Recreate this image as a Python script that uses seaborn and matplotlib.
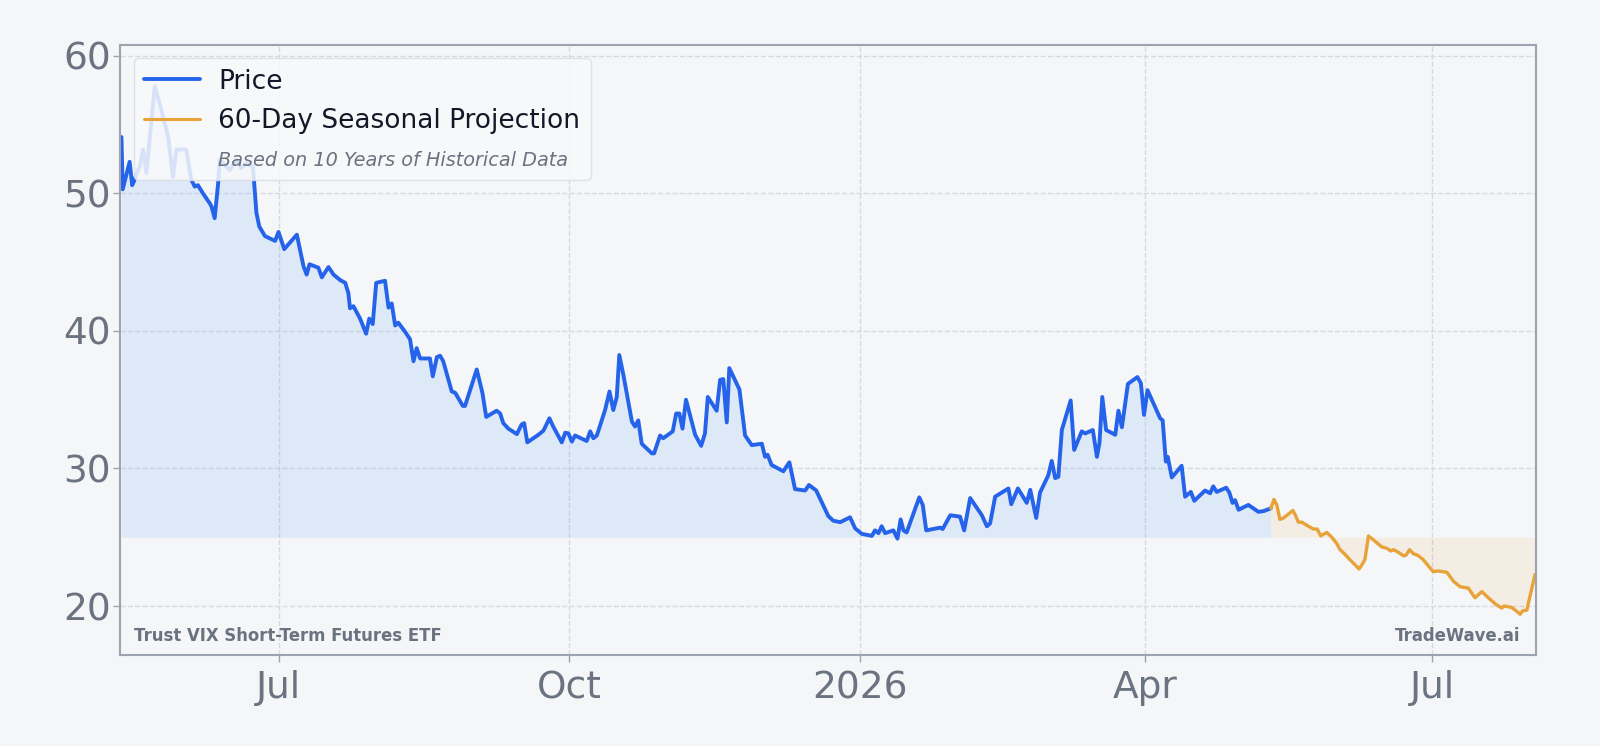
import pandas as pd
import seaborn as sns
import matplotlib.pyplot as plt
from matplotlib.lines import Line2D

# Precio diario (dias desde el 12-may-2025)
inicio = pd.Timestamp("2025-05-12")

dias_precio = [0.3, 0.7, 2.9, 3.7, 4.3, 6.1, 7.15, 8.2, 10.85, 12.9, 15.1, 16.6, 17.7, 20.8,
               22.4, 23.5, 24.5, 26.1, 28.2, 28.8, 29.8, 30.9, 31.4, 34.6, 36.7, 38.2, 39.8,
               41.9, 43.0, 43.9, 45.7, 48.9, 50.0, 51.8, 55.8, 57.9, 58.9, 59.8, 62.6, 63.7,
               65.8, 67.4, 69.5, 71.1, 72.1, 72.6, 73.7, 75.8, 77.7, 78.7, 79.8, 80.9, 83.7,
               84.8, 85.8, 86.9, 87.9, 90.0, 91.6, 92.7, 93.7, 94.8, 97.9, 98.8, 100.1, 101.1,
               102.1, 104.8, 105.9, 108.3, 109.0, 112.7, 114.5, 115.7, 119.0, 120.1, 121.1,
               122.7, 125.4, 126.9, 127.7, 128.7, 132.2, 133.8, 135.7, 136.9, 139.6, 140.7,
               141.7, 142.8, 143.8, 147.5, 148.6, 149.6, 150.7, 153.3, 154.7, 155.9, 157.0,
               157.8, 159.1, 161.8, 162.8, 163.8, 164.9, 168.1, 168.8, 170.7, 171.7, 174.7,
               175.8, 176.8, 177.8, 178.9, 181.8, 183.7, 184.9, 185.8, 188.6, 189.7, 190.7,
               191.8, 192.6, 195.8, 197.6, 199.7, 202.9, 203.9, 204.7, 206.0, 209.7, 211.6,
               213.4, 216.6, 217.8, 220.1, 223.9, 225.5, 227.7, 230.8, 232.4, 234.5, 237.7,
               238.7, 239.8, 240.8, 241.9, 244.5, 245.8, 246.8, 247.7, 248.7, 252.7, 253.8,
               254.9, 259.3, 260.1, 262.5, 265.6, 266.9, 268.8, 272.5, 274.1, 275.1, 276.7,
               280.9, 281.8, 283.9, 286.7, 287.8, 289.7, 290.9, 293.5, 294.6, 295.7, 296.7,
               297.8, 300.6, 301.7, 304.1, 305.2, 307.6, 308.9, 309.7, 310.6, 311.8, 314.7,
               315.7, 316.8, 318.7, 321.7, 322.8, 323.8, 324.9, 328.9, 329.7, 330.7, 331.3,
               332.6, 335.7, 336.8, 338.6, 339.7, 343.1, 344.7, 345.7, 346.8, 349.8, 350.8,
               351.8, 352.6, 353.7, 356.8, 360.0, 361.6, 363.9]
precio = [54.1, 50.3, 52.3, 50.6, 50.9, 52.0, 53.2, 51.5, 57.8, 56.1, 54.1, 51.2, 53.2, 53.2,
          51.0, 50.5, 50.6, 50.0, 49.3, 49.05, 48.2, 50.75, 52.45, 51.7, 52.45, 51.85, 52.2,
          51.95, 48.6, 47.6, 46.9, 46.55, 47.2, 45.95, 47.0, 44.7, 44.1, 44.85, 44.6, 43.9,
          44.65, 44.1, 43.7, 43.5, 42.75, 41.65, 41.8, 40.9, 39.8, 40.9, 40.5, 43.5, 43.65,
          41.7, 42.0, 40.4, 40.6, 39.95, 39.4, 37.8, 38.75, 38.0, 38.0, 36.7, 38.1, 38.2,
          37.8, 35.6, 35.5, 34.55, 34.55, 37.2, 35.5, 33.75, 34.2, 34.0, 33.3,
          32.9, 32.5, 33.2, 33.3, 31.9, 32.45, 32.75, 33.65, 33.05, 31.9, 32.6,
          32.55, 31.95, 32.4, 32.0, 32.7, 32.2, 32.4, 34.25, 35.6, 34.25, 35.2,
          38.25, 36.8, 33.4, 33.05, 33.5, 31.8, 31.1, 31.1, 32.4, 32.2, 32.7,
          34.0, 34.0, 32.9, 35.0, 32.45, 31.65, 32.55, 35.2, 34.2, 36.45, 36.5,
          33.35, 37.3, 35.75, 32.4, 31.7, 31.8, 30.85, 31.0, 30.25, 29.8, 30.45,
          28.5, 28.4, 28.8, 28.4, 26.55, 26.2, 26.1, 26.45, 25.65, 25.25, 25.1,
          25.5, 25.3, 25.8, 25.3, 25.5, 24.9, 26.3, 25.5, 25.35, 27.9, 27.35,
          25.5, 25.7, 25.6, 26.6, 26.5, 25.5, 27.85, 26.6, 25.8, 26.0, 27.95,
          28.55, 27.4, 28.55, 27.5, 28.45, 26.4, 28.25, 29.5, 30.55, 29.3, 29.4,
          32.8, 34.95, 31.35, 32.7, 32.55, 32.8, 30.85, 31.85, 35.2, 32.8, 32.45,
          34.2, 33.0, 36.15, 36.65, 36.2, 33.9, 35.7, 33.65, 33.5, 30.5, 30.85,
          29.35, 30.2, 27.95, 28.3, 27.65, 28.4, 28.2, 28.7, 28.3, 28.6, 28.25,
          27.5, 27.7, 27.0, 27.35, 26.85, 26.9, 27.1]

# Proyeccion estacional de 60 dias
dias_proy = [363.9, 364.9, 365.8, 366.8, 367.9, 370.9, 371.8, 372.6, 373.7, 375.8, 377.4,
             378.6, 379.7, 381.6, 383.0, 384.6, 385.8, 387.2, 388.8, 390.3, 391.8, 392.7,
             393.7, 394.8, 396.4, 399.0, 400.6, 401.9, 402.7, 404.3, 405.9, 406.7, 407.8,
             409.0, 410.3, 412.0, 413.8, 415.3, 416.9, 419.6, 421.7, 423.8, 426.4, 428.5,
             430.7, 432.7, 435.2, 437.0, 437.7, 440.1, 441.5, 442.8, 443.6, 444.9, 447.5]
proyeccion = [27.1, 27.75, 27.35, 26.3, 26.4, 26.95, 26.55, 26.1, 26.1, 25.8, 25.6,
              25.6, 25.1, 25.35, 25.05, 24.6, 24.1, 23.8, 23.4, 23.05, 22.7, 22.98,
              23.4, 25.1, 24.8, 24.3, 24.2, 24.0, 24.1, 23.9, 23.65, 23.7, 24.1,
              23.8, 23.7, 23.4, 22.9, 22.5, 22.55, 22.45, 21.8, 21.4, 21.3, 20.6,
              21.05, 20.6, 20.1, 19.85, 20.0, 19.9, 19.65, 19.4, 19.65, 19.7, 22.3]

base_relleno = 25
y_ticks = [20, 30, 40, 50, 60]
x_ticks = ["2025-07-01", "2025-10-01", "2026-01-01", "2026-04-01", "2026-07-01"]
x_labels = ["Jul", "Oct", "2026", "Apr", "Jul"]

df_precio = pd.DataFrame({"fecha": inicio + pd.to_timedelta(dias_precio, unit="D"), "valor": precio})
df_proy = pd.DataFrame({"fecha": inicio + pd.to_timedelta(dias_proy, unit="D"), "valor": proyeccion})

azul = "#2563eb"
azul_relleno = "#60a5fa"
naranja = "#e8a23a"
fondo = "#f5f6f8"
gris = "#6b7280"

sns.set_theme(style="white")
plt.rcParams["font.family"] = ["DejaVu Sans"]

fig, ax = plt.subplots(figsize=(16, 7.46), dpi=100)
fig.subplots_adjust(left=0.0753, right=0.9598, top=0.9398, bottom=0.122)
fig.patch.set_facecolor(fondo)
ax.set_facecolor(fondo)

ax.fill_between(df_precio["fecha"], df_precio["valor"], base_relleno, color=azul_relleno, alpha=0.15, lw=0)
ax.fill_between(df_proy["fecha"], df_proy["valor"], base_relleno, color=naranja, alpha=0.1, lw=0)
sns.lineplot(data=df_precio, x="fecha", y="valor", ax=ax, color=azul, linewidth=2.8)
sns.lineplot(data=df_proy, x="fecha", y="valor", ax=ax, color=naranja, linewidth=2.4)

ax.set_xlim(inicio, inicio + pd.Timedelta(days=447.7))
ax.set_ylim(16.44, 60.8)
ax.set_yticks(y_ticks)
ax.set_xticks(pd.to_datetime(x_ticks), x_labels)
ax.set_xlabel("")
ax.set_ylabel("")

ax.grid(True, linestyle="--", color="#d5d9e0", linewidth=1.0)
ax.set_axisbelow(True)
for s in ax.spines.values():
    s.set_color("#9ca3af")
    s.set_linewidth(1.5)
ax.tick_params(axis="both", labelsize=27, labelcolor=gris, color="#9ca3af",
               length=5, width=1, bottom=True, left=True)
ax.tick_params(axis="x", pad=6)
ax.tick_params(axis="y", pad=2)

handles = [
    Line2D([], [], color=azul, linewidth=2.8),
    Line2D([], [], color=naranja, linewidth=2.2),
    Line2D([], [], color="none"),
]
etiquetas = ["Price", "60-Day Seasonal Projection", "Based on 10 Years of Historical Data"]
leg = ax.legend(handles, etiquetas, loc="upper left", fontsize=19, frameon=True,
                facecolor="#f8f9fb", edgecolor="#d9dde3", framealpha=0.85,
                handlelength=2.1, handletextpad=0.7, borderpad=0.4, labelspacing=0.5)
for t in leg.get_texts():
    t.set_color("#111827")
sub = leg.get_texts()[2]
sub.set_fontstyle("italic")
sub.set_fontsize(13.9)
sub.set_color(gris)

ax.text(0.0094, 0.023, "Trust VIX Short-Term Futures ETF", transform=ax.transAxes,
        fontsize=11.9, fontweight="bold", color=gris, va="baseline", ha="left")
ax.text(0.989, 0.023, "TradeWave.ai", transform=ax.transAxes,
        fontsize=11.9, fontweight="bold", color=gris, va="baseline", ha="right")

plt.savefig("out.png", dpi=100, facecolor=fondo)
